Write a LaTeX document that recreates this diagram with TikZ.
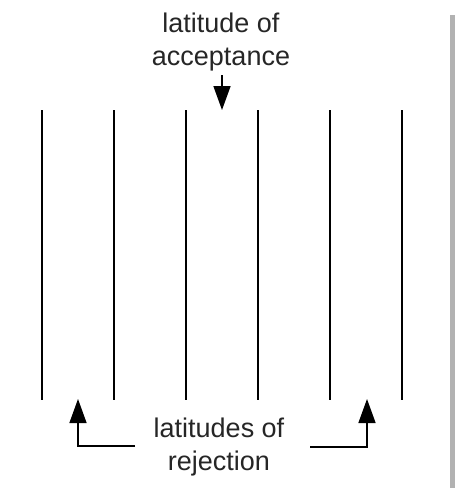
\documentclass[tikz,border=0pt]{standalone}
\usepackage{fontspec}
\setmainfont{Liberation Sans}
\usetikzlibrary{arrows.meta}
\tikzset{
  bar/.style={line width=1.5pt, black},
  arr/.style={line width=1.5pt, black, -{Triangle[width=17pt,length=24pt]}},
  lbl/.style={align=center, inner sep=0pt, text=black!85,
              font=\fontsize{27}{33}\selectfont},
}
\begin{document}
\begin{tikzpicture}[x=1pt, y=-1pt]
  \useasboundingbox (0,0) rectangle (455,488);
  \fill[white] (0,0) rectangle (455,488);
  % shadow strip along the right edge
  \fill[black!30] (450,15) rectangle (455,488);

  % the six vertical bars
  \foreach \i/\x in {1/42,2/114,3/186,4/258,5/330,6/402}{
    \coordinate (t\i) at (\x,110);
    \coordinate (b\i) at (\x,400);
    \draw[bar] (t\i) -- (b\i);
  }

  % upper label and its arrow (base = baseline of the last line)
  \node[lbl, anchor=base] (acc) at (221,65) {latitude of\\acceptance};
  \coordinate (acctip) at (222,110);
  \draw[arr] (acctip |- 0,75) -- (acctip);

  % lower label and its two arrows
  \node[lbl, anchor=base] (rej) at (219,470) {latitudes of\\rejection};
  \coordinate (ltip) at (78,399);
  \coordinate (rtip) at (367,399);
  \coordinate (lend) at (135,446);
  \coordinate (rend) at (310,447);
  \draw[arr] (lend) -| (ltip);
  \draw[arr] (rend) -| (rtip);
\end{tikzpicture}
\end{document}
